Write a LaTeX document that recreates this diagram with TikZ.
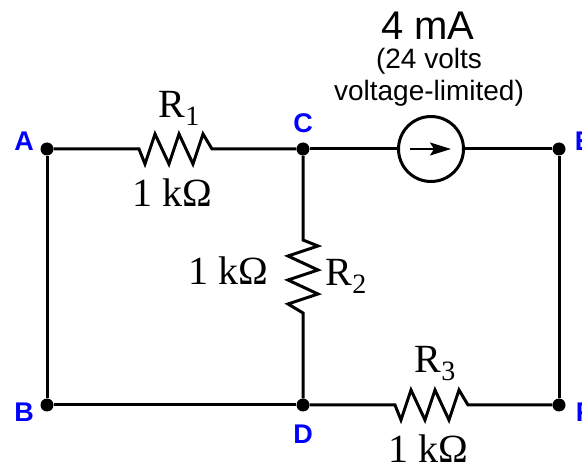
\documentclass[tikz,border=0pt]{standalone}
\usepackage{fontspec}
\setmainfont{Liberation Serif}
\setsansfont{Liberation Sans}
\usetikzlibrary{arrows.meta}

\newcommand{\subnum}[1]{\raisebox{-8pt}{\fontsize{28}{28}\selectfont #1}}

\begin{document}
\begin{tikzpicture}[x=1pt,y=-1pt]
        % Define styles
        \tikzset{
            junction/.style={circle, fill=black, inner sep=0pt, minimum size=13pt},
            wire/.style={line width=3pt, line join=miter},
            source/.style={circle, draw, line width=3pt, inner sep=0pt, minimum size=65pt},
            arrow/.style={-{Stealth[length=21pt,width=13pt,inset=4pt]}, line width=1.5pt},
            terminal/.style={text=blue, font=\sffamily\bfseries\fontsize{27}{27}\selectfont},
            value/.style={font=\fontsize{40}{40}\selectfont},
            amps/.style={font=\sffamily\fontsize{40}{40}\selectfont},
            note/.style={font=\sffamily\fontsize{28}{32}\selectfont, align=center}
        }
        \useasboundingbox (0,0) rectangle (582,465);

        % Nodes
        \node[junction] (node_a) at (47,149) {};
        \node[junction] (node_c) at (303,149) {};
        \node[junction] (node_e) at (559,149) {};
        \node[junction] (node_b) at (47,405) {};
        \node[junction] (node_d) at (303,405) {};
        \node[junction] (node_f) at (559,405) {};
        \node[source] (source_1) at (431,149) {};

        \coordinate (r1_in) at (139,149);
        \coordinate (r1_out) at (212,149);
        \coordinate (r2_in) at (303,240);
        \coordinate (r2_out) at (303,313);
        \coordinate (r3_in) at (395,405);
        \coordinate (r3_out) at (468,405);
        \coordinate (arrow_in) at (410,149);
        \coordinate (arrow_out) at (451,149);

        % Wires
        \draw[wire] (node_a) -- (r1_in) -- ++(6,15) -- ++(10,-30) -- ++(14,30) -- ++(10,-30) -- ++(14,30) -- ++(10,-30) -- (r1_out) -- (node_c);
        \draw[wire] (node_c) -- (r2_in) -- ++(15,6) -- ++(-30,10) -- ++(30,14) -- ++(-30,10) -- ++(30,14) -- ++(-30,10) -- (r2_out) -- (node_d);
        \draw[wire] (node_d) -- (r3_in) -- ++(6,15) -- ++(10,-30) -- ++(14,30) -- ++(10,-30) -- ++(14,30) -- ++(10,-30) -- (r3_out) -- (node_f);
        \draw[wire] (node_c) -- (source_1);
        \draw[wire] (source_1) -- (node_e);
        \draw[wire] (node_a) -- (node_b);
        \draw[wire] (node_b) -- (node_d);
        \draw[wire] (node_e) -- (node_f);
        \draw[arrow] (arrow_in) -- (arrow_out);

        % Labels
        \node[terminal] (label_a) at (24,141) {A};
        \node[terminal] (label_c) at (303,123) {C};
        \node[terminal] (label_e) at (584,141) {E};
        \node[terminal] (label_b) at (24,412) {B};
        \node[terminal] (label_d) at (303,434) {D};
        \node[terminal] (label_f) at (584,412) {F};
        \node[value] (label_r1) at (179,108) {R\subnum{1}};
        \node[value] (value_r1) at (172,193) {1 kΩ};
        \node[value] (label_r2) at (346,276) {R\subnum{2}};
        \node[value] (value_r2) at (228,271) {1 kΩ};
        \node[value] (label_r3) at (435,364) {R\subnum{3}};
        \node[value] (value_r3) at (428,449) {1 kΩ};
        \node[amps] (label_amps) at (428,26) {4 mA};
        \node[note] (label_limit) at (429,77) {(24 volts\\voltage-limited)};
    \end{tikzpicture}
\end{document}
